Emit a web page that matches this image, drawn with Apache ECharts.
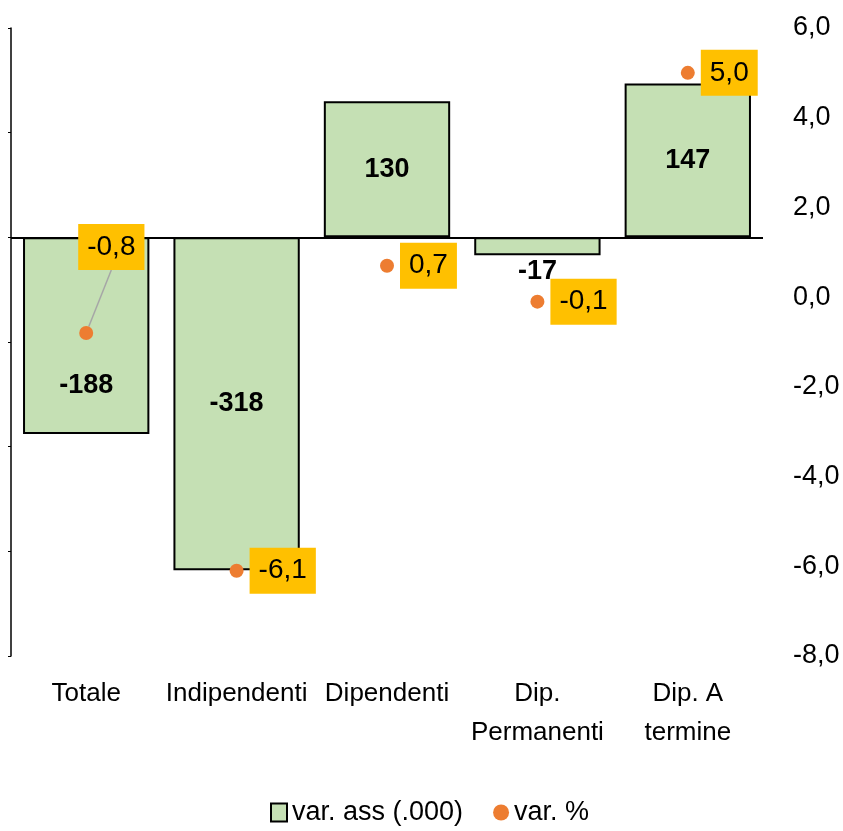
<!DOCTYPE html>
<html>
<head>
<meta charset="utf-8">
<script src="https://cdn.jsdelivr.net/npm/echarts@6/dist/echarts.min.js"></script>
<style>
  html, body { margin: 0; padding: 0; background: #fff; overflow: hidden; }
  #chart { width: 843px; height: 831px; }
</style>
</head>
<body>
<div id="chart"></div>
<script>
// dati
var categories = ['Totale', 'Indipendenti', 'Dipendenti', 'Dip.\nPermanenti', 'Dip. A\ntermine'];
var varAss = [-188, -318, 130, -17, 147];
var varPct = [-0.8, -6.1, 0.7, -0.1, 5.0];
var pctTicks = [-8, 6, 2]; // min, max, interval asse destro
var assTicks = [-400, 200, 100]; // min, max, interval asse sinistro

var FONT = "'Liberation Sans', Arial, sans-serif";

function fmt(v) {
    return v.toFixed(1).replace('.', ',');
}

var myChart = echarts.init(document.getElementById('chart'));

var barData = varAss.map(function (v, i) {
    var item = { value: v };
    if (i === 0) item.label = { offset: [0, 50] };
    if (i === 3) item.label = { position: 'bottom', distance: 3 };
    return item;
});

var pctData = varPct.map(function (v, i) {
    var item = { value: v };
    if (i === 0) item.labelLine = { show: true, lineStyle: { color: '#A6A6A6', width: 1.5 } };
    return item;
});

option = {
    animation: false,
    textStyle: { fontFamily: FONT },
    grid: {
        left: 11,
        right: 80,
        top: 28,
        bottom: 175
    },
    legend: {
        bottom: 0,
        left: 265,
        itemGap: 30,
        itemWidth: 16,
        itemHeight: 18,
        textStyle: { fontFamily: FONT, fontSize: 27, color: '#000' },
        data: [
            { name: 'var. ass (.000)', icon: 'rect' },
            { name: 'var. %', icon: 'circle', itemStyle: { borderWidth: 0 } }
        ]
    },
    xAxis: {
        type: 'category',
        data: categories,
        axisLine: { show: false, onZero: false },
        axisTick: { show: false },
        axisLabel: {
            interval: 0,
            margin: 18,
            fontFamily: FONT,
            fontSize: 26,
            lineHeight: 39,
            color: '#000'
        }
    },
    yAxis: [
        {
            type: 'value',
            min: assTicks[0],
            max: assTicks[1],
            interval: assTicks[2],
            position: 'left',
            axisLine: { show: true, lineStyle: { color: '#000', width: 1.5 } },
            axisTick: { show: true, length: 3, lineStyle: { color: '#000' } },
            axisLabel: { show: false },
            splitLine: { show: false }
        },
        {
            type: 'value',
            min: pctTicks[0],
            max: pctTicks[1],
            interval: pctTicks[2],
            position: 'right',
            axisLine: { show: false },
            axisTick: { show: false },
            splitLine: { show: false },
            axisLabel: {
                align: 'left',
                margin: 30,
                fontFamily: FONT,
                fontSize: 27,
                color: '#000',
                formatter: fmt
            }
        }
    ],
    series: [
        {
            name: 'var. ass (.000)',
            type: 'bar',
            yAxisIndex: 0,
            barCategoryGap: '16%',
            itemStyle: { color: '#C5E0B4', borderColor: '#000', borderWidth: 2 },
            label: {
                show: true,
                position: 'inside',
                fontFamily: FONT,
                fontSize: 27,
                fontWeight: 'bold',
                color: '#000'
            },
            markLine: {
                silent: true,
                symbol: 'none',
                label: { show: false },
                lineStyle: { color: '#000', width: 2, type: 'solid' },
                data: [{ yAxis: 0 }]
            },
            data: barData
        },
        {
            name: 'var. %',
            type: 'scatter',
            yAxisIndex: 1,
            symbol: 'circle',
            symbolSize: 14,
            z: 5,
            itemStyle: { color: '#ED7D31', opacity: 1 },
            label: {
                show: true,
                position: 'right',
                distance: 6,
                backgroundColor: '#FFC000',
                padding: [9, 9, 9, 9],
                fontFamily: FONT,
                fontSize: 28,
                color: '#000',
                formatter: function (p) { return fmt(p.value); }
            },
            labelLayout: function (params) {
                if (params.dataIndex === 0) {
                    return { dx: -21, dy: -86 };
                }
                return {};
            },
            data: pctData
        }
    ]
};

myChart.setOption(option);
</script>
</body>
</html>
